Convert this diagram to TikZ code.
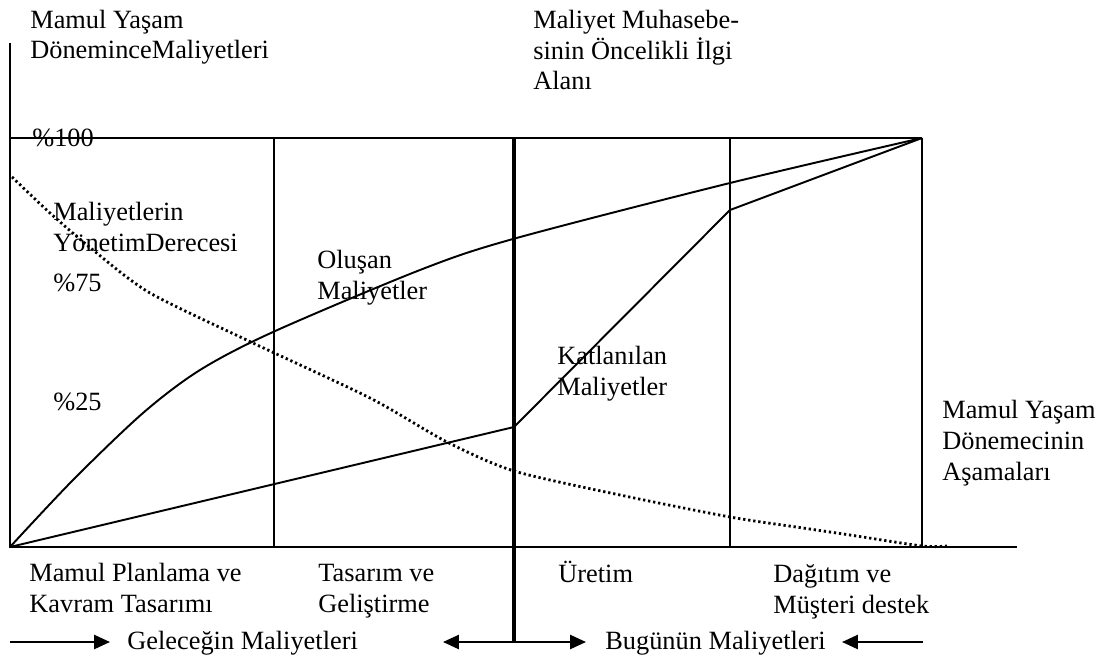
\documentclass[tikz,border=0pt]{standalone}
\usepackage{fontspec}
\setmainfont{Liberation Serif}
\usetikzlibrary{arrows.meta}

\tikzset{
  lbl/.style={anchor=base west, inner sep=0pt, align=left,
    font=\fontsize{15}{17.6}\selectfont},
  thinline/.style={line width=1.1pt},
  nowline/.style={line width=2.3pt},
  ctrlcurve/.style={line width=1.6pt, dash pattern=on 1.3pt off 1.6pt},
  costarrow/.style={thinline, -{Triangle[length=9pt,width=8pt]}},
}

\begin{document}
\begin{tikzpicture}[x=0.02cm,y=-0.02cm]
  \useasboundingbox (0,0) rectangle (1101,662);
  % axes
  \draw[thinline] (10,43) -- (10,547) -- (1017,547);
  \draw[thinline] (10,138) -- (922,138);
  % phase boundaries
  \draw[thinline] (274,138) -- (274,547);
  \draw[thinline] (730,138) -- (730,547);
  \draw[thinline] (922,138) -- (922,547);
  \coordinate (nowtop) at (514,138);
  \coordinate (nowbot) at (514,642);
  \draw[nowline] (nowtop) -- (nowbot);
  % curves
  \draw[thinline] plot[smooth, tension=0.5] coordinates
    {(10,547) (73,480) (143,413) (200,370) (273,332) (420,270) (513,239) (730,183) (922,138)};
  \draw[thinline, line join=miter] (10,547) -- (514,427) -- (730,210) -- (922,138);
  \draw[ctrlcurve] plot[smooth, tension=0.45] coordinates
    {(12,177) (50,213) (93,250) (150,293) (253,343) (370,398) (447,442) (514,471)
     (620,495) (730,517) (803,528) (850,535) (922,546) (947,546)};
  % arrows
  \coordinate (futstart) at (10,642);
  \coordinate (futend) at (110,642);
  \coordinate (pastleft) at (443,642);
  \coordinate (presright) at (586,642);
  \coordinate (presstart) at (923,642);
  \coordinate (presend) at (842,642);
  \draw[costarrow] (futstart) -- (futend);
  \draw[costarrow] (nowbot) -- (pastleft);
  \draw[costarrow] (nowbot) -- (presright);
  \draw[costarrow] (presstart) -- (presend);
  % label (anchored at the baseline of the last line)
  \node[lbl] (yaxis) at (30,59) {Mamul Yaşam\\DöneminceMaliyetleri};
  \node[lbl] (focus) at (533,90) {Maliyet Muhasebe-\\sinin Öncelikli İlgi\\Alanı};
  \node[lbl] (p100) at (32,147) {\%100};
  \node[lbl] (control) at (53,251) {Maliyetlerin\\YönetimDerecesi};
  \node[lbl] (p75) at (53,291) {\%75};
  \node[lbl] (p25) at (53,410) {\%25};
  \node[lbl] (incurred) at (317,299) {Oluşan\\Maliyetler};
  \node[lbl] (committed) at (557,395) {Katlanılan\\Maliyetler};
  \node[lbl] (xaxis) at (942,480) {Mamul Yaşam\\Dönemecinin\\Aşamaları};
  \node[lbl] (planning) at (29,612) {Mamul Planlama ve\\Kavram Tasarımı};
  \node[lbl] (design) at (318,612) {Tasarım ve\\Geliştirme};
  \node[lbl] (production) at (558,582) {Üretim};
  \node[lbl] (distribution) at (773,613) {Dağıtım ve\\Müşteri destek};
  \node[lbl] (future) at (127,649) {Geleceğin Maliyetleri};
  \node[lbl] (present) at (605,649) {Bugünün Maliyetleri};
\end{tikzpicture}
\end{document}
